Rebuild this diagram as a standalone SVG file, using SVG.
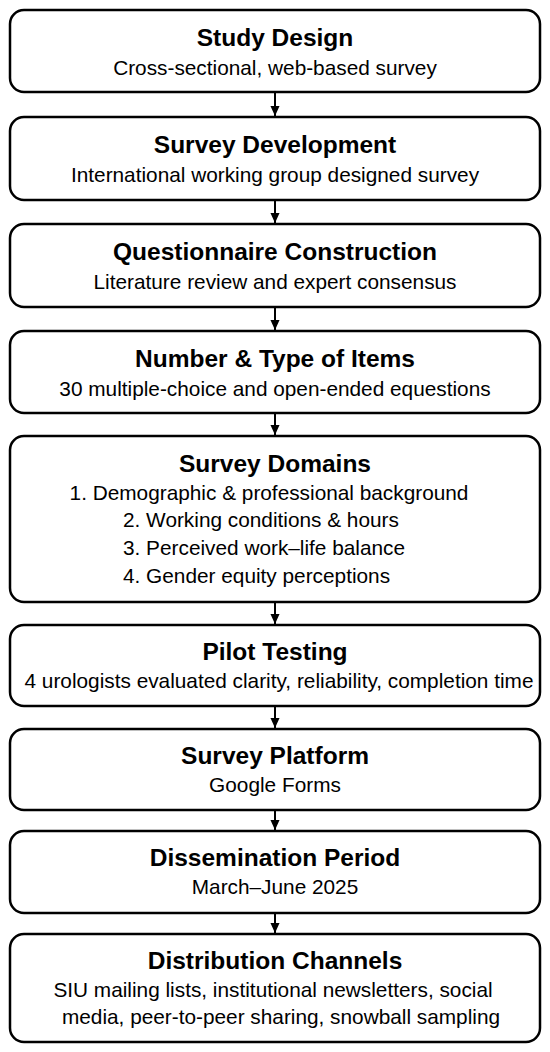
<svg xmlns="http://www.w3.org/2000/svg" width="550" height="1052" viewBox="0 0 550 1052">
<style>
.box{fill:#fff;stroke:#000;stroke-width:2.5}
.t{font-family:"Liberation Sans",Arial,sans-serif;font-weight:bold;font-size:24.5px;fill:#000;text-anchor:middle}
.s{font-family:"Liberation Sans",Arial,sans-serif;font-size:20.8px;fill:#000;text-anchor:middle}
.l{text-anchor:start}
.c{stroke:#000;stroke-width:2;fill:none}
</style>
<defs>
<marker id="ah" markerUnits="userSpaceOnUse" markerWidth="10" markerHeight="11" refX="11" refY="5" orient="auto" viewBox="0 0 11 10">
<path d="M0,0 L11,5 L0,10 z" fill="#000"/>
</marker>
</defs>
<rect width="550" height="1052" fill="#fff"/>
<g id="connectors">
<path class="c" d="M275,93 V116" marker-end="url(#ah)"/>
<path class="c" d="M275,201 V223" marker-end="url(#ah)"/>
<path class="c" d="M275,308 V330" marker-end="url(#ah)"/>
<path class="c" d="M275,414 V435" marker-end="url(#ah)"/>
<path class="c" d="M275,603 V624" marker-end="url(#ah)"/>
<path class="c" d="M275,707 V728" marker-end="url(#ah)"/>
<path class="c" d="M275,811 V830" marker-end="url(#ah)"/>
<path class="c" d="M275,914 V933" marker-end="url(#ah)"/>
</g>
<g id="study-design">
<rect class="box" x="10" y="10" width="530" height="82" rx="14"/>
<text class="t" x="275" y="46">Study Design</text>
<text class="s" x="275" y="75">Cross-sectional, web-based survey</text>
</g>
<g id="survey-development">
<rect class="box" x="10" y="117" width="530" height="83" rx="14"/>
<text class="t" x="275" y="153">Survey Development</text>
<text class="s" x="275" y="182">International working group designed survey</text>
</g>
<g id="questionnaire-construction">
<rect class="box" x="10" y="224" width="530" height="83" rx="14"/>
<text class="t" x="275" y="260">Questionnaire Construction</text>
<text class="s" x="275" y="289">Literature review and expert consensus</text>
</g>
<g id="number-type-items">
<rect class="box" x="10" y="331" width="530" height="82" rx="14"/>
<text class="t" x="275" y="367">Number &amp; Type of Items</text>
<text class="s" x="275" y="396">30 multiple-choice and open-ended equestions</text>
</g>
<g id="survey-domains">
<rect class="box" x="10" y="436" width="530" height="166" rx="14"/>
<text class="t" x="275" y="472">Survey Domains</text>
<text class="s" x="269" y="500">1. Demographic &amp; professional background</text>
<text class="s l" x="123" y="527">2. Working conditions &amp; hours</text>
<text class="s l" x="123" y="555">3. Perceived work–life balance</text>
<text class="s l" x="123" y="583">4. Gender equity perceptions</text>
</g>
<g id="pilot-testing">
<rect class="box" x="10" y="625" width="530" height="81" rx="14"/>
<text class="t" x="275" y="660">Pilot Testing</text>
<text class="s" x="279" y="688">4 urologists evaluated clarity, reliability, completion time</text>
</g>
<g id="survey-platform">
<rect class="box" x="10" y="729" width="530" height="81" rx="14"/>
<text class="t" x="275" y="764">Survey Platform</text>
<text class="s" x="275" y="792">Google Forms</text>
</g>
<g id="dissemination-period">
<rect class="box" x="10" y="831" width="530" height="82" rx="14"/>
<text class="t" x="275" y="866">Dissemination Period</text>
<text class="s" x="275" y="894">March–June 2025</text>
</g>
<g id="distribution-channels">
<rect class="box" x="10" y="934" width="530" height="108" rx="14"/>
<text class="t" x="275" y="969">Distribution Channels</text>
<text class="s" x="273" y="997">SIU mailing lists, institutional newsletters, social</text>
<text class="s" x="281" y="1024">media, peer-to-peer sharing, snowball sampling</text>
</g>
</svg>
